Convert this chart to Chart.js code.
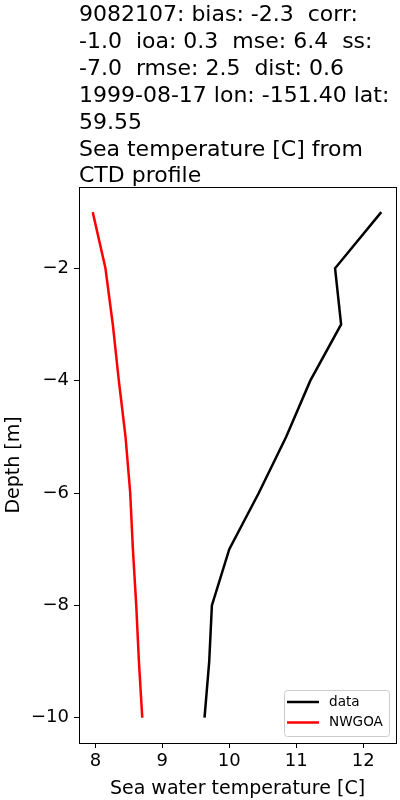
<!DOCTYPE html>
<html>
<head>
<meta charset="utf-8">
<script src="https://cdn.jsdelivr.net/npm/chart.js@4.4.1/dist/chart.umd.min.js"></script>
<style>
  html, body { margin: 0; padding: 0; background: #fff; }
  #wrap { width: 400px; height: 800px; position: relative; }
</style>
</head>
<body>
<div id="wrap"><canvas id="chart" width="400" height="800"></canvas></div>
<script>
// values
const depths = [-1, -2, -3, -4, -5, -6, -7, -8, -9, -10];
const dataTemps = [12.27, 11.58, 11.67, 11.21, 10.85, 10.44, 10.00, 9.74, 9.70, 9.63];
const nwgoaTemps = [7.96, 8.15, 8.26, 8.35, 8.45, 8.52, 8.56, 8.61, 8.65, 8.70];
const xTicks = [8, 9, 10, 11, 12];
const yTicks = [-2, -4, -6, -8, -10];
const titleLines = [
    '9082107: bias: -2.3  corr:',
    '-1.0  ioa: 0.3  mse: 6.4  ss:',
    '-7.0  rmse: 2.5  dist: 0.6',
    '1999-08-17 lon: -151.40 lat:',
    '59.55',
    'Sea temperature [C] from',
    'CTD profile'
];

const FONT = "'DejaVu Sans', sans-serif";

function toPoints(xs) {
    return xs.map((x, i) => ({ x: x, y: depths[i] }));
}

// title over the plot, lined up with the axes box like matplotlib
const titlePlugin = {
    id: 'mplTitle',
    afterDraw(chart) {
        const ctx = chart.ctx;
        ctx.save();
        ctx.fillStyle = '#000';
        ctx.font = '22px ' + FONT;
        ctx.textAlign = 'left';
        ctx.textBaseline = 'alphabetic';
        titleLines.forEach((line, i) => {
            ctx.fillText(line, chart.chartArea.left, 21 + i * 26.9);
        });
        ctx.restore();
    }
};

// top + right spines
const framePlugin = {
    id: 'frame',
    afterDraw(chart) {
        const a = chart.chartArea, ctx = chart.ctx;
        ctx.save();
        ctx.strokeStyle = '#000';
        ctx.lineWidth = 1;
        ctx.strokeRect(Math.round(a.left) + 0.5, Math.round(a.top) + 0.5,
            Math.round(a.right - a.left), Math.round(a.bottom - a.top));
        ctx.restore();
    }
};

// legend in the lower right corner, inside the axes
const legendPlugin = {
    id: 'innerLegend',
    afterDraw(chart) {
        const a = chart.chartArea, ctx = chart.ctx;
        const w = 105, h = 46;
        const x = a.right - 7 - w, y = a.bottom - 7 - h;
        ctx.save();
        ctx.beginPath();
        ctx.roundRect(x + 0.5, y + 0.5, w, h, 3);
        ctx.fillStyle = 'rgba(255,255,255,0.8)';
        ctx.fill();
        ctx.strokeStyle = '#cccccc';
        ctx.lineWidth = 1;
        ctx.stroke();
        ctx.font = '13.6px ' + FONT;
        ctx.textBaseline = 'middle';
        chart.data.datasets.forEach((ds, i) => {
            const ly = y + 12 + i * 20.5;
            ctx.strokeStyle = ds.borderColor;
            ctx.lineWidth = 2.5;
            ctx.beginPath();
            ctx.moveTo(x + 3, ly);
            ctx.lineTo(x + 35, ly);
            ctx.stroke();
            ctx.fillStyle = '#000';
            ctx.fillText(ds.label, x + 45, ly);
        });
        ctx.restore();
    }
};

const minusFmt = v => String(v).replace('-', '\u2212');

new Chart(document.getElementById('chart'), {
    type: 'scatter',
    data: {
        datasets: [
            { label: 'data', data: toPoints(dataTemps), borderColor: '#000000', backgroundColor: '#000000',
              showLine: true, borderWidth: 2.5, pointRadius: 0, tension: 0 },
            { label: 'NWGOA', data: toPoints(nwgoaTemps), borderColor: '#ff0000', backgroundColor: '#ff0000',
              showLine: true, borderWidth: 2.5, pointRadius: 0, tension: 0 }
        ]
    },
    options: {
        responsive: false,
        animation: false,
        layout: { padding: { top: 187, right: 4, left: 0, bottom: 0 } },
        plugins: {
            legend: { display: false },
            tooltip: { enabled: false },
            title: { display: false }
        },
        scales: {
            x: {
                type: 'linear',
                min: 7.755,
                max: 12.49,
                afterBuildTicks: s => { s.ticks = xTicks.map(v => ({ value: v })); },
                afterFit: s => { s.height = 57; },
                grid: { display: true, drawOnChartArea: false, drawTicks: true, tickLength: 5, color: '#000' },
                border: { display: true, color: '#000', width: 1 },
                ticks: { color: '#000', font: { family: FONT, size: 18 }, padding: 3, maxRotation: 0, callback: minusFmt },
                title: { display: true, text: 'Sea water temperature [C]', color: '#000',
                         font: { family: FONT, size: 19 }, padding: { top: 1, bottom: 0 } }
            },
            y: {
                type: 'linear',
                min: -10.45,
                max: -0.553,
                afterBuildTicks: s => { s.ticks = yTicks.map(v => ({ value: v })); },
                afterFit: s => { s.width = 79; },
                grid: { display: true, drawOnChartArea: false, drawTicks: true, tickLength: 5, color: '#000' },
                border: { display: true, color: '#000', width: 1 },
                ticks: { color: '#000', font: { family: FONT, size: 18 }, padding: 5, callback: minusFmt },
                title: { display: true, text: 'Depth [m]', color: '#000',
                         font: { family: FONT, size: 19 }, padding: { top: 3, bottom: 2 } }
            }
        }
    },
    plugins: [titlePlugin, framePlugin, legendPlugin]
});
</script>
</body>
</html>
